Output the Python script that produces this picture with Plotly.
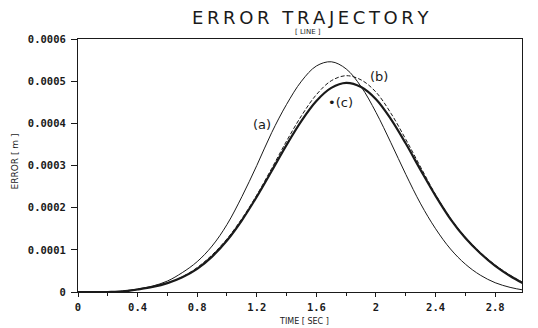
import plotly.graph_objects as go

# Time samples [s]
time_s = [0.0, 0.1, 0.2, 0.3, 0.4, 0.5, 0.6, 0.7, 0.8, 0.9,
          1.0, 1.1, 1.2, 1.3, 1.4, 1.5, 1.6, 1.7, 1.8, 1.9,
          2.0, 2.1, 2.2, 2.3, 2.4, 2.5, 2.6, 2.7, 2.8, 2.9, 3.0]

# Tracking error of the three cases, in units of 1e-4 m
err_a = [0.0, 0.0, 0.0, 0.03, 0.07, 0.14, 0.26, 0.46, 0.72, 1.09,
         1.60, 2.26, 3.00, 3.78, 4.45, 5.00, 5.36, 5.46, 5.29, 4.87,
         4.26, 3.54, 2.79, 2.09, 1.50, 1.02, 0.66, 0.40, 0.22, 0.11, 0.04]
err_b = [0.0, 0.0, 0.0, 0.01, 0.06, 0.12, 0.21, 0.36, 0.58, 0.88,
         1.26, 1.74, 2.30, 2.93, 3.58, 4.18, 4.68, 5.01, 5.13, 5.03,
         4.74, 4.24, 3.62, 2.96, 2.31, 1.75, 1.30, 0.94, 0.64, 0.40, 0.20]
err_c = [0.0, 0.0, 0.0, 0.01, 0.06, 0.12, 0.21, 0.35, 0.55, 0.84,
         1.22, 1.70, 2.26, 2.87, 3.49, 4.06, 4.53, 4.84, 4.96, 4.86,
         4.57, 4.10, 3.52, 2.89, 2.28, 1.73, 1.28, 0.92, 0.62, 0.38, 0.18]

SCALE = 1e-4  # list units -> metres

x_ticks = [0, 0.4, 0.8, 1.2, 1.6, 2.0, 2.4, 2.8]
x_tick_text = ["0", "0.4", "0.8", "1.2", "1.6", "2", "2.4", "2.8"]
y_ticks = [0, 0.0001, 0.0002, 0.0003, 0.0004, 0.0005, 0.0006]
y_tick_text = ["0", "0.0001", "0.0002", "0.0003", "0.0004", "0.0005", "0.0006"]

INK = "#1a1a1a"
tick_font = dict(family="DejaVu Sans Mono", size=10.5, color=INK, weight="bold")

fig = go.Figure()
fig.add_trace(go.Scatter(x=time_s, y=[v * SCALE for v in err_a], mode="lines",
                         line=dict(color=INK, width=1, shape="spline"), name="(a)"))
fig.add_trace(go.Scatter(x=time_s, y=[v * SCALE for v in err_b], mode="lines",
                         line=dict(color=INK, width=1, dash="4px,2px", shape="spline"), name="(b)"))
fig.add_trace(go.Scatter(x=time_s, y=[v * SCALE for v in err_c], mode="lines",
                         line=dict(color=INK, width=2.2, shape="spline"), name="(c)"))

curve_font = dict(family="DejaVu Sans", size=13, color=INK)
fig.add_annotation(x=1.235, y=0.000398, text="(a)", showarrow=False, font=curve_font)
fig.add_annotation(x=2.02, y=0.000510, text="(b)", showarrow=False, font=curve_font)
fig.add_annotation(x=1.76, y=0.00045, text="•(c)", showarrow=False, font=curve_font)

# Title block
fig.add_annotation(xref="paper", yref="paper", x=0.523, y=1.0, yshift=22, yanchor="middle",
                   text="E\u2009R\u2009R\u2009O\u2009R\u2009 \u2009T\u2009R\u2009A\u2009J\u2009E\u2009C\u2009T\u2009O\u2009R\u2009Y",
                   showarrow=False, font=dict(family="DejaVu Sans", size=18, color=INK))
fig.add_annotation(xref="paper", yref="paper", x=0.518, y=1.0, yshift=7, yanchor="middle",
                   text="[ LINE ]", showarrow=False,
                   font=dict(family="DejaVu Sans", size=7, color=INK))

# Axis titles
fig.add_annotation(xref="paper", yref="paper", x=0.51, y=0.0, yshift=-29, yanchor="middle",
                   text="TIME [ SEC ]", showarrow=False,
                   font=dict(family="DejaVu Sans", size=8, color=INK))
fig.add_annotation(xref="paper", yref="paper", x=0.0, xshift=-64, xanchor="center",
                   y=0.5, yshift=4, yanchor="middle", textangle=-90,
                   text="ERROR [ m ]", showarrow=False,
                   font=dict(family="DejaVu Sans", size=9, color=INK))

fig.update_layout(
    width=538, height=328,
    margin=dict(l=78, r=16, t=39, b=36),
    paper_bgcolor="white", plot_bgcolor="white",
    showlegend=False,
    xaxis=dict(
        range=[0, 2.98], tickmode="array", tickvals=x_ticks, ticktext=x_tick_text,
        ticks="outside", ticklen=4, tickcolor=INK, tickwidth=1,
        minor=dict(dtick=0.2, ticks="outside", ticklen=3, tickcolor=INK),
        showgrid=False, zeroline=False, showline=True, linecolor=INK, linewidth=1.2,
        mirror=True, tickfont=tick_font, ticklabelstandoff=1, automargin=False,
    ),
    yaxis=dict(
        range=[0, 0.0006], tickmode="array", tickvals=y_ticks, ticktext=y_tick_text,
        ticks="outside", ticklen=6, tickcolor=INK, tickwidth=1,
        showgrid=False, zeroline=False, showline=True, linecolor=INK, linewidth=1.2,
        mirror=True, tickfont=tick_font, ticklabelstandoff=3, automargin=False,
    ),
)

fig.write_html("out.html")
